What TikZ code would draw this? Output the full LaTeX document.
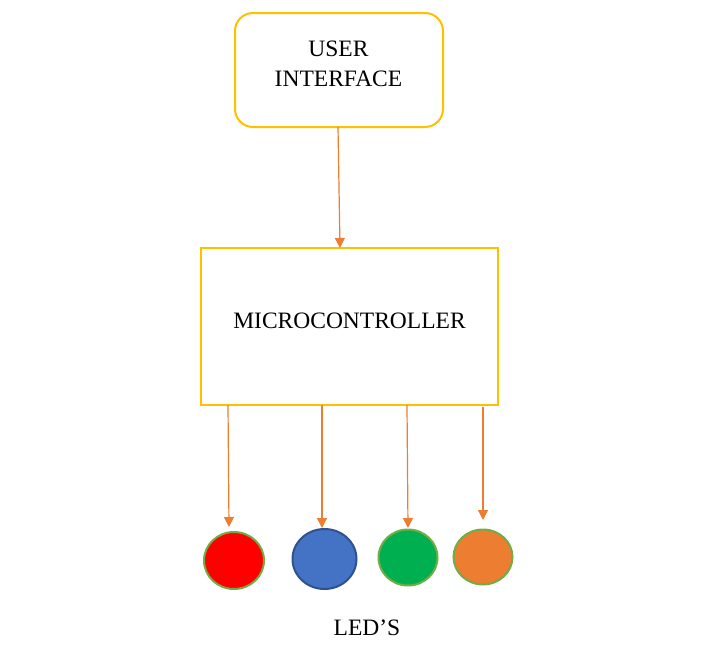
\documentclass[tikz,border=0pt]{standalone}
\usepackage{fontspec}
\setmainfont{Liberation Serif}
\usetikzlibrary{arrows.meta}
\definecolor{boxyellow}{HTML}{FFC000}
\definecolor{arrorange}{HTML}{ED7D31}
\definecolor{ledgreen}{HTML}{70AD47}
\definecolor{ledblue}{HTML}{4472C4}
\definecolor{ledblueedge}{HTML}{2F528F}
\definecolor{ledgreenfill}{HTML}{00B050}
\tikzset{
  blockbox/.style={draw=boxyellow, line width=2pt, fill=white},
  conn/.style={draw=arrorange, line width=1.2pt, -{Triangle[length=10pt,width=10pt]}},
  lbl/.style={font=\fontsize{23.5}{30}\selectfont, align=center, text=black},
  led/.style={line width=2pt}
}
\begin{document}
\begin{tikzpicture}[x=1pt,y=-1pt]
\useasboundingbox (0,0) rectangle (716,662);
% boxes
\draw[blockbox, rounded corners=18pt] (235,13) rectangle (443,127);
\node[lbl] (ui) at (338.5,64) {USER\\INTERFACE};
\coordinate (uib) at (338,127);
\draw[blockbox] (201,248) rectangle (498,405);
\node[lbl] (mc) at (349.5,321) {MICROCONTROLLER};
\coordinate (mct) at (340,248);
\draw[conn] (uib) -- (mct);
% LEDs
\draw[led, draw=ledgreen, fill=red] (234,560.5) ellipse [x radius=30, y radius=28.5];
\draw[led, draw=ledblueedge, fill=ledblue] (324.5,559) ellipse [x radius=32, y radius=30];
\draw[led, draw=ledgreen, fill=ledgreenfill] (408,557.5) ellipse [x radius=29.5, y radius=28];
\draw[led, draw=ledgreen, fill=arrorange] (483,557) ellipse [x radius=29.5, y radius=27.5];
\coordinate (l1) at (229,527);
\coordinate (l2) at (322,528);
\coordinate (l3) at (408,528);
\coordinate (l4) at (483,520);
\coordinate (m1) at (228,405);
\coordinate (m2) at (322,405);
\coordinate (m3) at (407,405);
\coordinate (m4) at (483,407);
\draw[conn] (m1) -- (l1);
\draw[conn] (m2) -- (l2);
\draw[conn] (m3) -- (l3);
\draw[conn] (m4) -- (l4);
\node[lbl] (leds) at (367,628) {LED’S};
\end{tikzpicture}
\end{document}
